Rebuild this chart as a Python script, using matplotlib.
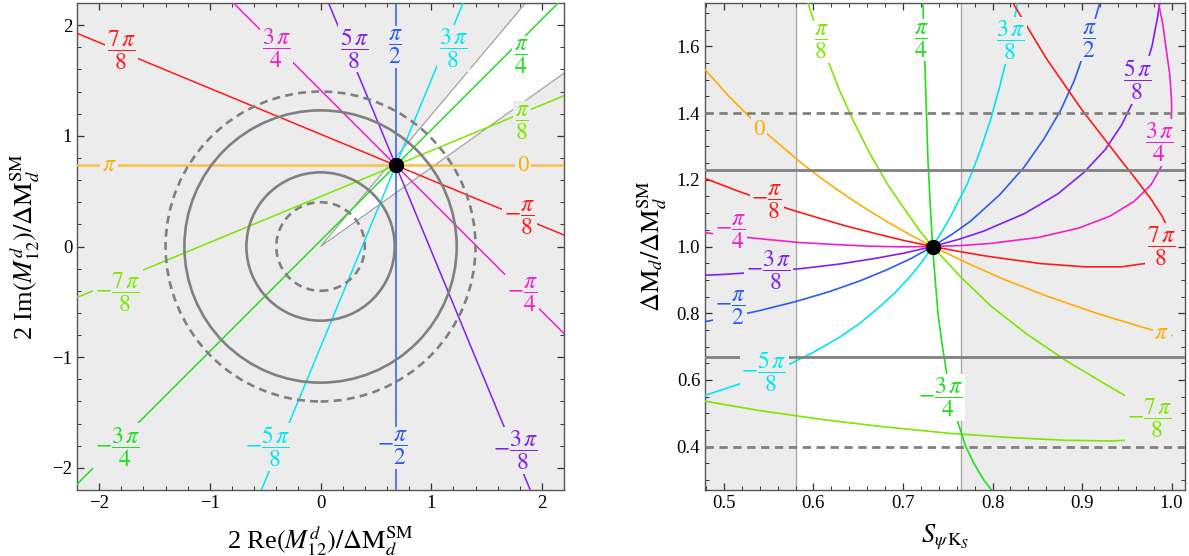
import numpy as np
import matplotlib
matplotlib.use("Agg")
import matplotlib.pyplot as plt
from matplotlib.patches import Circle, Wedge

plt.rcParams['font.family'] = ['Liberation Serif', 'DejaVu Serif']
plt.rcParams['mathtext.fontset'] = 'stix'

# --- data ---
sm_point = (0.680, 0.733)          # 2 M12 / dM_SM in the SM (|.|=1, S=0.733)
sm_point_right = (0.733, 1.0)      # same point in (S, dM/dM_SM)
bound_levels = [0.4, 0.67, 1.23, 1.4]
bound_dashed = [True, False, False, True]
s_band = [0.58, 0.765]             # allowed S_psiKs range

# phase k*pi/8 for k = 0..7 (each line carries k and k-8)
phase_k = [0, 1, 2, 3, 4, 5, 6, 7]
phase_colors = ['#f7c14d', '#7fe600', '#1fdf1f', '#00e6f0',
                '#2a5cf0', '#8020f0', '#f020c8', '#ff1a1a']
orange_right = '#ffae00'

# right panel curves: (S, dM/dM_SM) points
c_zero_pi = [(0.479, 1.530), (0.506, 1.449), (0.543, 1.350), (0.586, 1.251),
             (0.610, 1.202), (0.637, 1.151), (0.660, 1.111), (0.685, 1.070),
             (0.708, 1.035), (0.733, 1.000), (0.772, 0.950), (0.814, 0.900),
             (0.862, 0.850), (0.916, 0.800), (0.965, 0.760), (1.000, 0.733)]
c_pi8 = [(0.733, 1.000), (0.719, 1.046), (0.707, 1.092), (0.683, 1.185),
         (0.663, 1.279), (0.645, 1.374), (0.629, 1.469), (0.615, 1.565),
         (0.602, 1.662), (0.593, 1.739)]
c_pi4 = [(0.733, 1.000), (0.728, 1.250), (0.725, 1.500), (0.722, 1.750)]
c_3pi8 = [(0.733, 1.000), (0.744, 1.047), (0.754, 1.094), (0.772, 1.189),
          (0.786, 1.285), (0.798, 1.382), (0.808, 1.479), (0.817, 1.576),
          (0.824, 1.674), (0.828, 1.733)]
c_pi2 = [(0.733, 1.000), (0.755, 1.037), (0.775, 1.075), (0.808, 1.155),
         (0.835, 1.237), (0.857, 1.321), (0.876, 1.408), (0.891, 1.496),
         (0.903, 1.586), (0.914, 1.677), (0.920, 1.732)]
c_5pi8 = [(0.733, 1.000), (0.763, 1.022), (0.790, 1.046), (0.836, 1.099),
          (0.873, 1.158), (0.902, 1.222), (0.926, 1.291), (0.944, 1.364),
          (0.958, 1.440), (0.969, 1.519), (0.978, 1.600), (0.984, 1.683),
          (0.987, 1.734)]
c_3pi4 = [(0.733, 1.000), (0.766, 1.003), (0.797, 1.009), (0.851, 1.027),
          (0.896, 1.055), (0.931, 1.091), (0.958, 1.135), (0.977, 1.185),
          (0.989, 1.242), (0.996, 1.304), (0.9995, 1.370), (1.000, 1.412),
          (0.9998, 1.440), (0.998, 1.514), (0.994, 1.590), (0.990, 1.669),
          (0.985, 1.734)]
c_7pi8 = [(0.733, 1.000), (0.765, 0.984), (0.796, 0.970), (0.853, 0.949),
          (0.903, 0.939), (0.944, 0.939), (0.973, 0.950), (0.992, 0.971),
          (0.9995, 1.001), (0.998, 1.041), (0.990, 1.088), (0.977, 1.142),
          (0.960, 1.202), (0.941, 1.267), (0.921, 1.336), (0.900, 1.409),
          (0.860, 1.564), (0.823, 1.729), (0.821, 1.737)]
c_m_pi8 = [(0.733, 1.000), (0.701, 1.018), (0.669, 1.039), (0.637, 1.061),
           (0.605, 1.086), (0.573, 1.112), (0.543, 1.140), (0.513, 1.169),
           (0.484, 1.199), (0.478, 1.205)]
c_m_pi4 = [(0.733, 1.000), (0.698, 0.999), (0.662, 1.001), (0.624, 1.006),
           (0.584, 1.012), (0.545, 1.022), (0.504, 1.033), (0.472, 1.044)]
c_m_3pi8 = [(0.733, 1.000), (0.701, 0.980), (0.666, 0.963), (0.628, 0.947),
            (0.587, 0.934), (0.543, 0.924), (0.498, 0.916), (0.479, 0.914)]
c_m_pi2 = [(0.733, 1.000), (0.709, 0.964), (0.681, 0.929), (0.651, 0.896),
           (0.617, 0.864), (0.579, 0.834), (0.537, 0.806), (0.491, 0.781),
           (0.476, 0.773)]
c_m_5pi8 = [(0.733, 1.000), (0.721, 0.953), (0.707, 0.907), (0.691, 0.861),
            (0.672, 0.815), (0.652, 0.770), (0.628, 0.726), (0.600, 0.683),
            (0.568, 0.640), (0.530, 0.599), (0.485, 0.559), (0.475, 0.551)]
c_m_3pi4 = [(0.733, 1.000), (0.736, 0.900), (0.739, 0.800), (0.744, 0.700),
            (0.750, 0.600), (0.758, 0.501), (0.770, 0.401), (0.779, 0.351),
            (0.790, 0.301), (0.801, 0.262)]
c_m_7pi8 = [(0.733, 1.000), (0.764, 0.910), (0.798, 0.822), (0.838, 0.738),
            (0.882, 0.658), (0.928, 0.584), (0.970, 0.519), (0.987, 0.491),
            (0.997, 0.466), (1.000, 0.450), (0.991, 0.431), (0.968, 0.421),
            (0.932, 0.417), (0.882, 0.419), (0.821, 0.427), (0.752, 0.440),
            (0.680, 0.459), (0.608, 0.482), (0.538, 0.509), (0.473, 0.539)]

right_curves = [(c_zero_pi, orange_right), (c_pi8, phase_colors[1]),
                (c_pi4, phase_colors[2]), (c_3pi8, phase_colors[3]),
                (c_pi2, phase_colors[4]), (c_5pi8, phase_colors[5]),
                (c_3pi4, phase_colors[6]), (c_7pi8, phase_colors[7]),
                (c_m_7pi8, phase_colors[1]), (c_m_3pi4, phase_colors[2]),
                (c_m_5pi8, phase_colors[3]), (c_m_pi2, phase_colors[4]),
                (c_m_3pi8, phase_colors[5]), (c_m_pi4, phase_colors[6]),
                (c_m_pi8, phase_colors[7])]

# phase labels: text, x, y, color index
left_labels = [
    (r'$\dfrac{7\,\pi}{8}$', -1.80, 1.77, 7),
    (r'$\dfrac{3\,\pi}{4}$', -0.40, 1.79, 6),
    (r'$\dfrac{5\,\pi}{8}$', 0.31, 1.79, 5),
    (r'$\dfrac{\pi}{2}$', 0.68, 1.80, 4),
    (r'$\dfrac{3\,\pi}{8}$', 1.20, 1.79, 3),
    (r'$\dfrac{\pi}{4}$', 1.81, 1.71, 2),
    (r'$\dfrac{\pi}{8}$', 1.82, 1.12, 1),
    ('0', 1.83, 0.733, 0),
    (r'$-\dfrac{\pi}{8}$', 1.80, 0.26, 7),
    (r'$-\dfrac{\pi}{4}$', 1.82, -0.44, 6),
    (r'$-\dfrac{3\,\pi}{8}$', 1.76, -1.84, 5),
    (r'$-\dfrac{\pi}{2}$', 0.65, -1.82, 4),
    (r'$-\dfrac{5\,\pi}{8}$', -0.48, -1.81, 3),
    (r'$-\dfrac{3\,\pi}{4}$', -1.83, -1.81, 2),
    (r'$-\dfrac{7\,\pi}{8}$', -1.83, -0.41, 1),
    (r'$\pi$', -1.91, 0.733, 0),
]
right_labels = [
    ('0', 0.539, 1.352, 0),
    (r'$\dfrac{\pi}{8}$', 0.609, 1.613, 1),
    (r'$\dfrac{\pi}{4}$', 0.721, 1.618, 2),
    (r'$\dfrac{3\,\pi}{8}$', 0.820, 1.618, 3),
    (r'$\dfrac{\pi}{2}$', 0.908, 1.618, 4),
    (r'$\dfrac{5\,\pi}{8}$', 0.962, 1.500, 5),
    (r'$\dfrac{3\,\pi}{4}$', 0.987, 1.312, 6),
    (r'$\dfrac{7\,\pi}{8}$', 0.989, 1.000, 7),
    (r'$\pi$', 0.989, 0.740, 0),
    (r'$-\dfrac{7\,\pi}{8}$', 0.975, 0.486, 1),
    (r'$-\dfrac{3\,\pi}{4}$', 0.742, 0.547, 2),
    (r'$-\dfrac{5\,\pi}{8}$', 0.545, 0.625, 3),
    (r'$-\dfrac{\pi}{2}$', 0.507, 0.815, 4),
    (r'$-\dfrac{3\,\pi}{8}$', 0.550, 0.930, 5),
    (r'$-\dfrac{\pi}{4}$', 0.507, 1.045, 6),
    (r'$-\dfrac{\pi}{8}$', 0.548, 1.135, 7),
]

BG = '#ececec'
GRAY = '#808080'
LABEL_FS = 17


def style_axes(ax):
    ax.tick_params(which='both', direction='in', top=True, right=True,
                   labelsize=13.5, color='#333333',
                   labelfontfamily='Liberation Serif')
    ax.tick_params(which='major', length=5, width=0.9)
    ax.tick_params(which='minor', length=3, width=0.7)
    for sp in ax.spines.values():
        sp.set_color('#555555')
        sp.set_linewidth(1.0)


fig = plt.figure(figsize=(11.89, 5.56), dpi=100)

# ---------------- left: complex plane ----------------
ax1 = fig.add_axes([0.0648, 0.1187, 0.4096, 0.8759])
ax1.set_facecolor(BG)
ang = np.degrees(np.arcsin(s_band))
ax1.add_patch(Wedge((0, 0), 5, ang[0], ang[1], facecolor='white',
                    edgecolor='#9a9a9a', lw=0.8, zorder=1))

for r, d in zip(bound_levels, bound_dashed):
    ax1.add_patch(Circle((0, 0), r, fill=False, edgecolor=GRAY, lw=1.9,
                         linestyle=(0, (3, 2)) if d else '-', zorder=4))

for k, col in zip(phase_k, phase_colors):
    a = k * np.pi / 8
    ax1.axline(sm_point, (sm_point[0] + np.cos(a), sm_point[1] + np.sin(a)),
               color=col, lw=1.8 if k == 0 else 1.1, zorder=3)

for txt, x, y, ci in left_labels:
    col = '#f5b400' if ci == 0 else phase_colors[ci]
    a = np.degrees(np.arctan2(y, x))
    bg = 'white' if ang[0] < a < ang[1] else BG
    ax1.text(x, y, txt, color=col, fontsize=LABEL_FS, ha='center', va='center',
             zorder=5, bbox=dict(boxstyle='square,pad=0.08', fc=bg, ec='none'))

ax1.plot(*sm_point, 'o', color='black', ms=10, zorder=6)
ax1.set_xlim(-2.2, 2.2)
ax1.set_ylim(-2.2, 2.2)
ax1.xaxis.set_major_locator(plt.MultipleLocator(1))
ax1.xaxis.set_minor_locator(plt.MultipleLocator(0.2))
ax1.yaxis.set_major_locator(plt.MultipleLocator(1))
ax1.yaxis.set_minor_locator(plt.MultipleLocator(0.2))
style_axes(ax1)
ax1.set_xlabel(r'2 Re$(M_{12}^{d})/\Delta\mathrm{M}_{d}^{\mathrm{SM}}$', fontsize=19)
ax1.set_ylabel(r'2 Im$(M_{12}^{d})/\Delta\mathrm{M}_{d}^{\mathrm{SM}}$', fontsize=19)
ax1.xaxis.set_label_coords(0.5, -0.068)
ax1.yaxis.set_label_coords(-0.072, 0.5)

# ---------------- right: S_psiKs vs dM ----------------
ax2 = fig.add_axes([0.593, 0.1187, 0.4037, 0.8759])
ax2.set_facecolor(BG)
ax2.axvspan(s_band[0], s_band[1], color='white', zorder=1)
for s in s_band:
    ax2.axvline(s, color='#a8a8a8', lw=1.0, zorder=1.5)

for r, d in zip(bound_levels, bound_dashed):
    ax2.axhline(r, color=GRAY, lw=2.0, linestyle=(0, (3, 2)) if d else '-',
                zorder=4)

for pts, col in right_curves:
    s_vals = [p[0] for p in pts]
    r_vals = [p[1] for p in pts]
    ax2.plot(s_vals, r_vals, color=col, lw=1.2, zorder=3)

for txt, x, y, ci in right_labels:
    col = orange_right if ci == 0 else phase_colors[ci]
    bg = 'white' if s_band[0] < x < s_band[1] else BG
    ax2.text(x, y, txt, color=col, fontsize=LABEL_FS, ha='center', va='center',
             zorder=5, bbox=dict(boxstyle='square,pad=0.08', fc=bg, ec='none'))

ax2.plot(*sm_point_right, 'o', color='black', ms=10, zorder=6)
ax2.set_xlim(0.479, 1.015)
ax2.set_ylim(0.27, 1.73)
ax2.xaxis.set_major_locator(plt.MultipleLocator(0.1))
ax2.xaxis.set_minor_locator(plt.MultipleLocator(0.02))
ax2.yaxis.set_major_locator(plt.MultipleLocator(0.2))
ax2.yaxis.set_minor_locator(plt.MultipleLocator(0.05))
style_axes(ax2)
ax2.set_xlabel(r'$S_{\psi\,\mathrm{K}_S}$', fontsize=19)
ax2.set_ylabel(r'$\Delta\mathrm{M}_{d}/\Delta\mathrm{M}_{d}^{\mathrm{SM}}$', fontsize=19)
ax2.xaxis.set_label_coords(0.5, -0.066)
ax2.yaxis.set_label_coords(-0.075, 0.5)

fig.savefig('out.png', dpi=100)
